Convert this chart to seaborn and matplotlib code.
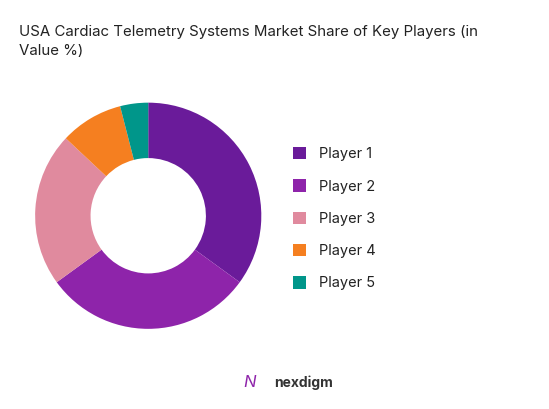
import matplotlib
matplotlib.use("Agg")
import matplotlib.pyplot as plt
import seaborn as sns

labels = ["Player 1", "Player 2", "Player 3", "Player 4", "Player 5"]
shares = [35, 30, 22, 9, 4]
colors = ["#6a1b9a", "#8e24aa", "#e08a9e", "#f57f20", "#00968a"]

sns.set_theme(style="white")
plt.rcParams['font.family'] = ['Inter', 'DejaVu Sans']

fig = plt.figure(figsize=(5.49, 4.09), dpi=100)
ax = fig.add_axes([0.064, 0.196, 0.412, 0.553])
wedges, _ = ax.pie(shares, colors=colors, startangle=90, counterclock=False,
                   wedgeprops=dict(width=0.49, linewidth=0))
ax.set_xlim(-1, 1)
ax.set_ylim(-1, 1)
ax.set_aspect("equal")

fig.text(0.035, 0.94, "USA Cardiac Telemetry Systems Market Share of Key Players (in\nValue %)",
         ha="left", va="top", fontsize=10.8, color="#222222", linespacing=1.5)

fig.legend(wedges, labels, loc="center left", bbox_to_anchor=(0.51, 0.465), frameon=False,
           fontsize=10.5, handlelength=0.9, handleheight=0.9, labelspacing=1.25,
           handletextpad=0.9, labelcolor="#222222")

fig.text(0.5, 0.065, "nexdigm", ha="left", va="center", fontsize=10, color="#333333",
         fontweight="bold")
fig.text(0.455, 0.065, "N", ha="center", va="center", fontsize=12, color="#8e24aa",
         fontstyle="italic")

fig.savefig("out.png", dpi=100)
